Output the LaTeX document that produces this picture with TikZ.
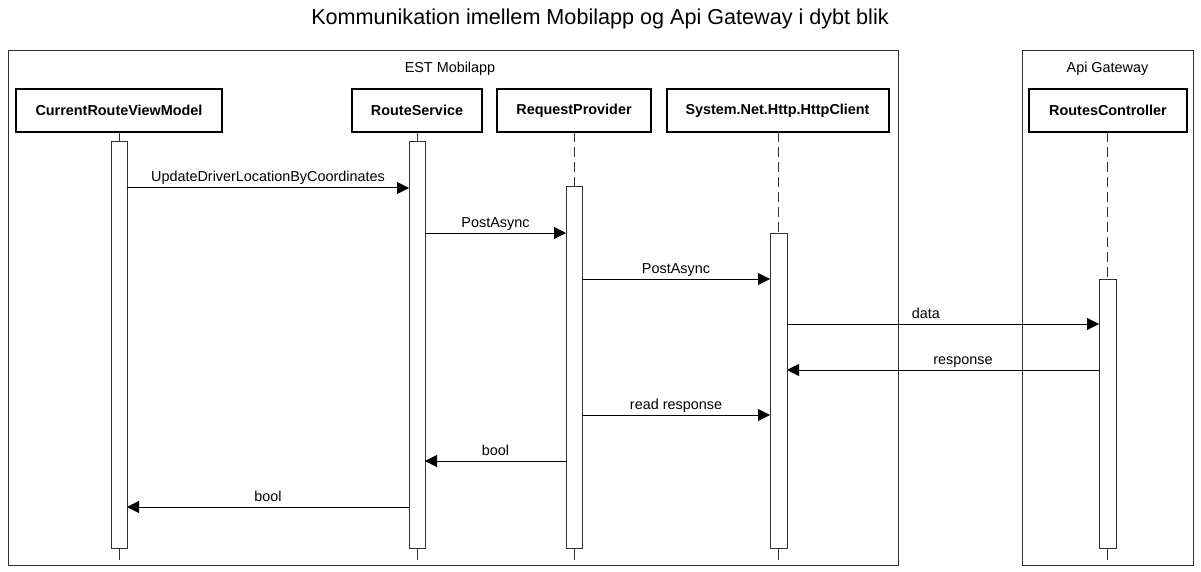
\documentclass[tikz,border=0pt]{standalone}
\usepackage{fontspec}
\setmainfont{Liberation Sans}
\usetikzlibrary{arrows.meta}
\begin{document}
\begin{tikzpicture}[x=1pt,y=-1pt,
  every node/.style={font=\fontsize{14.4}{17}\selectfont, inner sep=0pt, outer sep=0pt},
  headbox/.style={draw=black, line width=2pt, fill=white, font=\fontsize{14.4}{17}\selectfont\bfseries, minimum height=43pt},
  actbox/.style={draw=black!80, line width=1pt, fill=white, minimum width=16pt},
  framebox/.style={draw=black!80, line width=1pt},
  msg/.style={draw=black, line width=1pt, -{Triangle[length=12pt,width=12pt]}},
  lbl/.style={anchor=base, yshift=6pt},
  life/.style={draw=black!80, line width=1pt, dash pattern=on 10pt off 5pt},
  lifeend/.style={draw=black!80, line width=1pt}
]
\useasboundingbox (0,0) rectangle (1201,572);
\fill[white] (0,0) rectangle (1201,572);

% title
\node[anchor=base, font=\fontsize{21.6}{26}\selectfont] (title) at (600,25) {Kommunikation imellem Mobilapp og Api Gateway i dybt blik};

% frames
\draw[framebox] (8,51) rectangle (898,565);
\draw[framebox] (1022,51) rectangle (1193,565);
\node[anchor=base] (festlbl) at (450,73) {EST Mobilapp};
\node[anchor=base] (fapilbl) at (1107.5,73) {Api Gateway};

% heads
\node[headbox, minimum width=206pt] (hCR) at (119,110.5) {CurrentRouteViewModel};
\node[headbox, minimum width=130pt] (hRS) at (417,110.5) {RouteService};
\node[headbox, minimum width=154pt] (hRP) at (574,110.5) {RequestProvider};
\node[headbox, minimum width=222pt] (hHC) at (777.5,110.5) {System.Net.Http.HttpClient};
\node[headbox, minimum width=158pt] (hRC) at (1108,110.5) {RoutesController};

% lifeline ends
\coordinate (eCR) at (119,560);
\coordinate (eRS) at (417,560);
\coordinate (eRP) at (574,560);
\coordinate (eHC) at (778.5,560);
\coordinate (eRC) at (1107.5,560);

% activations
\node[actbox, minimum height=406pt] (aCR) at (119,345) {};
\node[actbox, minimum height=406pt] (aRS) at (417,345) {};
\node[actbox, minimum height=361pt] (aRP) at (574,367.5) {};
\node[actbox, minimum height=315pt, minimum width=17pt] (aHC) at (778.5,390.5) {};
\node[actbox, minimum height=269pt, minimum width=17pt] (aRC) at (1107.5,413.5) {};

% lifelines
\draw[lifeend] (hCR.south) -- (aCR.north);
\draw[lifeend] (hRS.south) -- (aRS.north);
\draw[life] (hRP.south) -- (aRP.north);
\draw[life] (hHC.south -| aHC.north) -- (aHC.north);
\draw[life] (hRC.south -| aRC.north) -- (aRC.north);
\draw[lifeend] (aCR.south) -- (eCR);
\draw[lifeend] (aRS.south) -- (eRS);
\draw[lifeend] (aRP.south) -- (eRP);
\draw[lifeend] (aHC.south) -- (eHC);
\draw[lifeend] (aRC.south) -- (eRC);

% message rows
\coordinate (m1) at (0,188);
\coordinate (m2) at (0,233);
\coordinate (m3) at (0,279);
\coordinate (m4) at (0,324);
\coordinate (m5) at (0,370);
\coordinate (m6) at (0,415);
\coordinate (m7) at (0,461);
\coordinate (m8) at (0,507);

\draw[msg] (aCR.east |- m1) -- node[lbl] (l1) {UpdateDriverLocationByCoordinates} (aRS.west |- m1);
\draw[msg] (aRS.east |- m2) -- node[lbl] (l2) {PostAsync} (aRP.west |- m2);
\draw[msg] (aRP.east |- m3) -- node[lbl] (l3) {PostAsync} (aHC.west |- m3);
\draw[msg] (aHC.east |- m4) -- node[lbl, pos=0.445] (l4) {data} (aRC.west |- m4);
\draw[msg] (aRC.west |- m5) -- node[lbl, pos=0.436] (l5) {response} (aHC.east |- m5);
\draw[msg] (aRP.east |- m6) -- node[lbl] (l6) {read response} (aHC.west |- m6);
\draw[msg] (aRP.west |- m7) -- node[lbl] (l7) {bool} (aRS.east |- m7);
\draw[msg] (aRS.west |- m8) -- node[lbl] (l8) {bool} (aCR.east |- m8);
\end{tikzpicture}
\end{document}
